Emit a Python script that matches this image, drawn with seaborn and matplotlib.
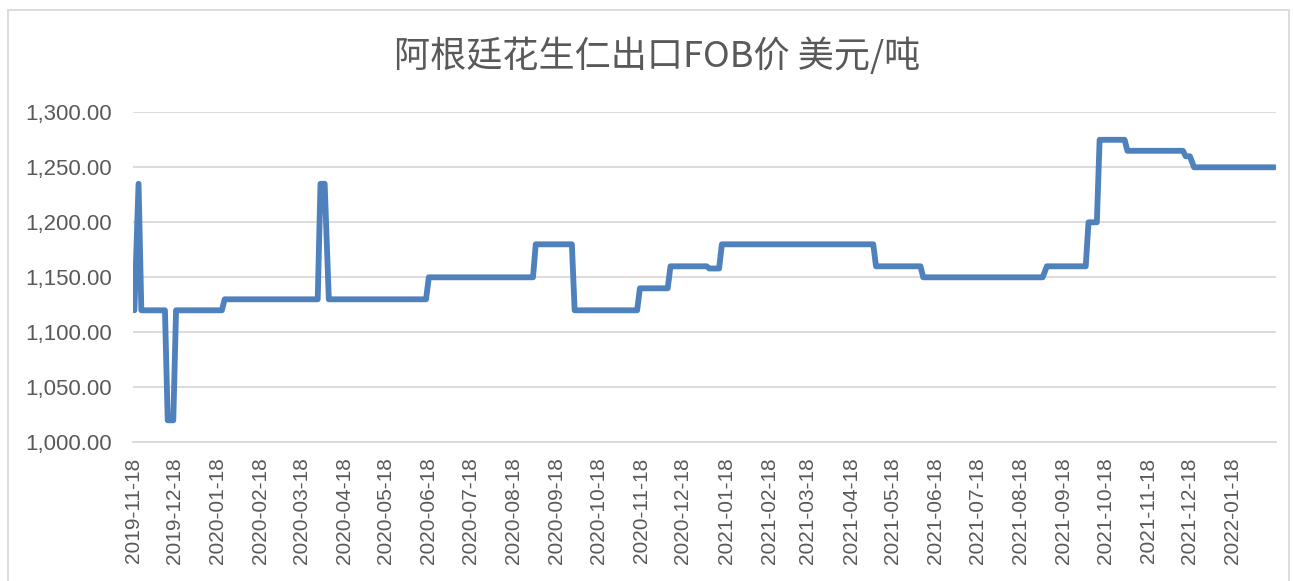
import pandas as pd
import matplotlib.pyplot as plt
import matplotlib.ticker as mticker
import seaborn as sns

plt.switch_backend('Agg')

# Price change points (USD/ton)
dates = [
    "2019-11-19", "2019-11-22", "2019-11-24", "2019-12-11", "2019-12-13",
    "2019-12-17", "2019-12-19", "2020-01-21", "2020-01-23", "2020-03-30",
    "2020-04-01", "2020-04-04", "2020-04-07", "2020-06-16",
    "2020-06-18", "2020-09-01", "2020-09-03", "2020-09-29", "2020-10-01",
    "2020-11-15", "2020-11-17", "2020-12-07", "2020-12-09", "2021-01-04",
    "2021-01-06", "2021-01-13", "2021-01-15", "2021-05-04", "2021-05-06",
    "2021-06-07", "2021-06-09", "2021-09-03", "2021-09-06", "2021-10-04",
    "2021-10-06", "2021-10-12", "2021-10-14", "2021-11-01", "2021-11-03",
    "2021-12-13", "2021-12-15", "2021-12-18", "2021-12-21", "2022-02-17",
]
prices = [
    1120, 1235, 1120, 1120, 1020,
    1020, 1120, 1120, 1130, 1130,
    1235, 1235, 1130, 1130,
    1150, 1150, 1180, 1180, 1120,
    1120, 1140, 1140, 1160, 1160,
    1158, 1158, 1180, 1180, 1160,
    1160, 1150, 1150, 1160, 1160,
    1200, 1200, 1275, 1275, 1265,
    1265, 1260, 1260, 1250, 1250,
]
tick_dates = pd.date_range("2019-11-01", "2022-01-18", freq="MS") + pd.Timedelta(days=17)
x_start, x_end = "2019-11-18", "2022-02-18"
title = "阿根廷花生仁出口FOB价 美元/吨"

df = pd.DataFrame({"date": pd.to_datetime(dates), "price": prices})

sns.set_style("white")
plt.rcParams['font.family'] = ['Liberation Sans', 'Noto Sans CJK SC', 'DejaVu Sans']

fig = plt.figure(figsize=(12.93, 5.81), dpi=100)
ax = fig.add_axes([133 / 1293, 1 - 442.3 / 581, (1276 - 133) / 1293, (442.3 - 112.3) / 581])

sns.lineplot(data=df, x="date", y="price", ax=ax, color="#4f81bd", linewidth=4.2,
             estimator=None, solid_capstyle="round", solid_joinstyle="round")

ax.set_xlim(pd.Timestamp(x_start), pd.Timestamp(x_end))
ax.set_ylim(1000, 1300)
ax.yaxis.set_major_locator(mticker.MultipleLocator(50))
ax.yaxis.set_major_formatter(mticker.StrMethodFormatter("{x:,.2f}"))
ax.set_xticks(list(tick_dates) + [pd.Timestamp(x_end)])
ax.set_xticklabels([d.strftime("%Y-%m-%d") for d in tick_dates] + [""], rotation=90)

ax.grid(axis="y", color="#d9d9d9", linewidth=1.3)
ax.grid(axis="x", visible=False)
for side in ["top", "right", "left"]:
    ax.spines[side].set_visible(False)
ax.spines["bottom"].set_color("#d9d9d9")
ax.spines["bottom"].set_linewidth(1.3)
ax.tick_params(axis="x", length=5, width=1.3, color="#d9d9d9", labelsize=15, labelcolor="#595959", pad=6)
ax.tick_params(axis="y", length=0, labelsize=16, labelcolor="#595959", pad=15)
ax.set_xlabel("")
ax.set_ylabel("")

fig.text(657 / 1293, 1 - 56 / 581, title, ha="center", va="center", fontsize=26,
         color="#595959", family=["Noto Sans CJK SC", "DejaVu Sans"], fontweight="light")

# thin chart-area border
border = plt.Rectangle((8 / 1293, -0.05), (1289 - 8) / 1293, 1.05 - 10 / 581,
                       transform=fig.transFigure, fill=False, edgecolor="#d9d9d9", linewidth=1.3)
fig.add_artist(border)

fig.savefig("out.png", dpi=100)
plt.close(fig)
